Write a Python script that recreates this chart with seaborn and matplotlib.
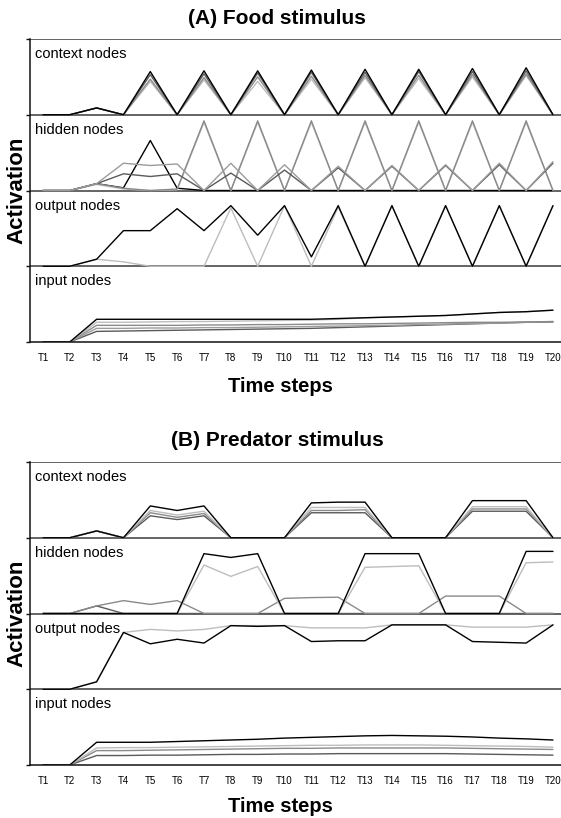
import numpy as np
import matplotlib
matplotlib.use("Agg")
import matplotlib.pyplot as plt
import seaborn as sns

# time steps on the x axis
steps = np.arange(1, 21)
step_labels = ['T1', 'T2', 'T3', 'T4', 'T5', 'T6', 'T7', 'T8', 'T9', 'T10',
               'T11', 'T12', 'T13', 'T14', 'T15', 'T16', 'T17', 'T18', 'T19', 'T20']
band_names = ['input nodes', 'output nodes', 'hidden nodes', 'context nodes']

# (A) Food stimulus - activation per node (fraction of band height)
food_ctx_black = [0, 0, .09, 0, .57, 0, .58, 0, .58, 0, .59, 0, .60, 0, .60, 0, .61, 0, .62, 0]
food_ctx_dark = [0, 0, .09, 0, .53, 0, .54, 0, .55, 0, .56, 0, .56, 0, .57, 0, .57, 0, .58, 0]
food_ctx_mid = [0, 0, .09, 0, .47, 0, .49, 0, .50, 0, .51, 0, .52, 0, .52, 0, .53, 0, .54, 0]
food_ctx_light = [0, 0, .09, 0, .44, 0, .46, 0, .44, 0, .47, 0, .49, 0, .48, 0, .50, 0, .52, 0]

food_hid_black = [0, 0, .09, .035, .66, .03, 0, 0, 0, 0, 0, 0, 0, 0, 0, 0, 0, 0, 0, 0]
food_hid_light = [0, 0, .08, .02, 0, .01, .90, 0, .90, 0, .90, 0, .90, 0, .90, 0, .90, 0, .90, 0]
food_hid_mid = [0, 0, .09, .03, 0, .02, .92, 0, .92, 0, .92, 0, .92, 0, .92, 0, .92, 0, .92, 0]
food_hid_gray1 = [0, 0, .09, .36, .33, .35, 0, .36, 0, .34, 0, .32, 0, .33, 0, .34, 0, .36, 0, .38]
food_hid_gray2 = [0, 0, .09, .22, .185, .22, 0, .23, 0, .27, 0, .30, 0, .32, 0, .33, 0, .34, 0, .36]

food_out_black = [0, 0, .093, .47, .47, .76, .47, .80, .41, .80, .124, .80, 0, .80, 0, .80, 0, .80, 0, .80]
food_out_light = [0, 0, .093, .058, 0, 0, 0, .77, 0, .80, 0, .78, 0, .80, 0, .80, 0, .80, 0, .80]

food_in_black = [0, 0, .30, .30, .30, .30, .30, .30, .30, .30, .30, .31, .32, .33, .34, .35, .37, .39, .40, .42]
food_in_light = [0, 0, .26, .26, .265, .27, .27, .275, .28, .285, .29, .30, .32, .33, .34, .35, .37, .39, .40, .42]
food_in_mid = [0, 0, .22, .22, .22, .22, .225, .225, .23, .23, .235, .24, .24, .245, .25, .255, .26, .26, .265, .27]
food_in_gray = [0, 0, .18, .18, .185, .185, .19, .19, .195, .20, .205, .21, .215, .22, .23, .235, .245, .25, .26, .27]
food_in_dark = [0, 0, .14, .145, .15, .155, .16, .165, .17, .175, .18, .19, .20, .21, .22, .23, .24, .25, .26, .265]

# (B) Predator stimulus
pred_ctx_black = [0, 0, .09, 0, .42, .36, .42, 0, 0, 0, .46, .47, .47, 0, 0, 0, .49, .49, .49, 0]
pred_ctx_light = [0, 0, .09, 0, .36, .30, .35, 0, 0, 0, .40, .40, .40, 0, 0, 0, .41, .41, .41, 0]
pred_ctx_mid = [0, 0, .09, 0, .33, .27, .32, 0, 0, 0, .36, .36, .37, 0, 0, 0, .38, .38, .38, 0]
pred_ctx_dark = [0, 0, .09, 0, .29, .24, .29, 0, 0, 0, .33, .33, .33, 0, 0, 0, .35, .35, .35, 0]

pred_hid_black = [0, 0, 0, 0, 0, 0, .79, .74, .79, 0, 0, 0, .79, .79, .79, 0, 0, 0, .82, .82]
pred_hid_light = [0, 0, 0, 0, 0, 0, .64, .49, .62, 0, 0, 0, .61, .62, .63, 0, 0, 0, .67, .68]
pred_hid_mid = [0, 0, .10, .17, .12, .17, 0, 0, 0, .20, .21, .215, 0, 0, 0, .23, .23, .23, 0, 0]
pred_hid_dark = [0, 0, .10, 0, 0, 0, 0, 0, 0, 0, 0, 0, 0, 0, 0, 0, 0, 0, 0, 0]

pred_out_black = [0, 0, .098, .75, .60, .66, .61, .84, .83, .84, .63, .64, .64, .85, .85, .85, .63, .62, .61, .85]
pred_out_light = [0, 0, .098, .75, .79, .77, .79, .84, .84, .84, .81, .81, .81, .85, .85, .85, .82, .82, .82, .85]

pred_in_black = [0, 0, .30, .30, .30, .31, .32, .33, .34, .355, .365, .375, .385, .39, .385, .38, .37, .355, .345, .33]
pred_in_light = [0, 0, .225, .23, .23, .235, .24, .245, .25, .255, .26, .26, .265, .265, .265, .26, .255, .25, .245, .235]
pred_in_mid = [0, 0, .19, .19, .195, .20, .205, .21, .215, .22, .22, .225, .225, .225, .225, .225, .22, .215, .21, .205]
pred_in_dark = [0, 0, .125, .125, .13, .13, .135, .14, .14, .145, .145, .15, .15, .15, .15, .15, .145, .14, .135, .13]

BLACK, DARK, MID, GRAY, LIGHT = '#000000', '#5a5a5a', '#8a8a8a', '#9c9c9c', '#bdbdbd'

sns.set_style('white')
plt.rcParams['font.family'] = ['Liberation Sans', 'DejaVu Sans']
plt.rcParams['text.color'] = 'black'
plt.rcParams['xtick.color'] = 'black'
plt.rcParams['ytick.color'] = 'black'

fig = plt.figure(figsize=(5.61, 8.18), dpi=100)
W, H = 561, 818


def px_axes(top, bottom):
    # axes runs from T0.5 (x=29.5px) to T20.5 (past the right edge)
    left, right = 29.5, 566.4
    return fig.add_axes([left / W, 1 - bottom / H, (right - left) / W, (bottom - top) / H])


def draw_panel(ax, bands):
    # bands: list of (offset, [(values, color), ...]) drawn bottom-up
    for off, lines in bands:
        for vals, col in lines:
            sns.lineplot(x=steps, y=off + np.array(vals), color=col, lw=1.0,
                         ax=ax, legend=False)
        ax.text(0.7, off + 0.80, band_names[off], fontsize=10.5, va='center', ha='left',
                color='black')
    for y in [1, 2, 3, 4]:
        ax.axhline(y, color='#3a3a3a', lw=1.1, zorder=0)
    ax.set_xlim(0.5, 20.5)
    ax.set_ylim(0, 4)
    ax.set_xticks(steps)
    ax.set_xticklabels(step_labels)
    ax.set_xticks([0.5, 3.5, 6.5, 9.5, 12.5, 15.5, 18.5], minor=True)
    ax.tick_params(axis='x', which='major', length=0, labelsize=7, pad=8, labelcolor='black')
    ax.tick_params(axis='x', which='minor', length=4, width=1, direction='out', color='#111111')
    ax.set_yticks([0, 1, 2, 3, 4])
    ax.set_yticklabels([])
    ax.tick_params(axis='y', length=3, width=1, direction='out', color='#111111')
    ax.tick_params(bottom=True, left=True)
    ax.set_xlabel('')
    ax.set_ylabel('')
    for s in ['top', 'right']:
        ax.spines[s].set_visible(False)
    for s in ['left', 'bottom']:
        ax.spines[s].set_color('#111111')
        ax.spines[s].set_linewidth(1.1)


ax_a = px_axes(39, 342)
draw_panel(ax_a, [
    (0, [(food_in_dark, DARK), (food_in_gray, GRAY), (food_in_mid, MID),
         (food_in_light, LIGHT), (food_in_black, BLACK)]),
    (1, [(food_out_light, LIGHT), (food_out_black, BLACK)]),
    (2, [(food_hid_black, BLACK), (food_hid_light, LIGHT), (food_hid_mid, MID),
         (food_hid_gray2, DARK), (food_hid_gray1, GRAY)]),
    (3, [(food_ctx_light, LIGHT), (food_ctx_mid, MID), (food_ctx_dark, DARK),
         (food_ctx_black, BLACK)]),
])

ax_b = px_axes(462, 765)
draw_panel(ax_b, [
    (0, [(pred_in_dark, DARK), (pred_in_mid, MID), (pred_in_light, LIGHT),
         (pred_in_black, BLACK)]),
    (1, [(pred_out_light, LIGHT), (pred_out_black, BLACK)]),
    (2, [(pred_hid_dark, DARK), (pred_hid_mid, MID), (pred_hid_light, LIGHT),
         (pred_hid_black, BLACK)]),
    (3, [(pred_ctx_dark, DARK), (pred_ctx_mid, MID), (pred_ctx_light, LIGHT),
         (pred_ctx_black, BLACK)]),
])

# titles and axis labels
fig.text(277 / W, 1 - 19 / H, '(A) Food stimulus', ha='center', va='center',
         fontsize=15, fontweight='bold')
fig.text(277 / W, 1 - 440 / H, '(B) Predator stimulus', ha='center', va='center',
         fontsize=15, fontweight='bold')
fig.text(280 / W, 1 - 386 / H, 'Time steps', ha='center', va='center',
         fontsize=14.5, fontweight='bold')
fig.text(280 / W, 1 - 806 / H, 'Time steps', ha='center', va='center',
         fontsize=14.5, fontweight='bold')
fig.text(17 / W, 1 - 190 / H, 'Activation', ha='center', va='center', rotation=90,
         fontsize=16, fontweight='bold')
fig.text(17 / W, 1 - 613 / H, 'Activation', ha='center', va='center', rotation=90,
         fontsize=16, fontweight='bold')

fig.savefig('out.png', dpi=100)
